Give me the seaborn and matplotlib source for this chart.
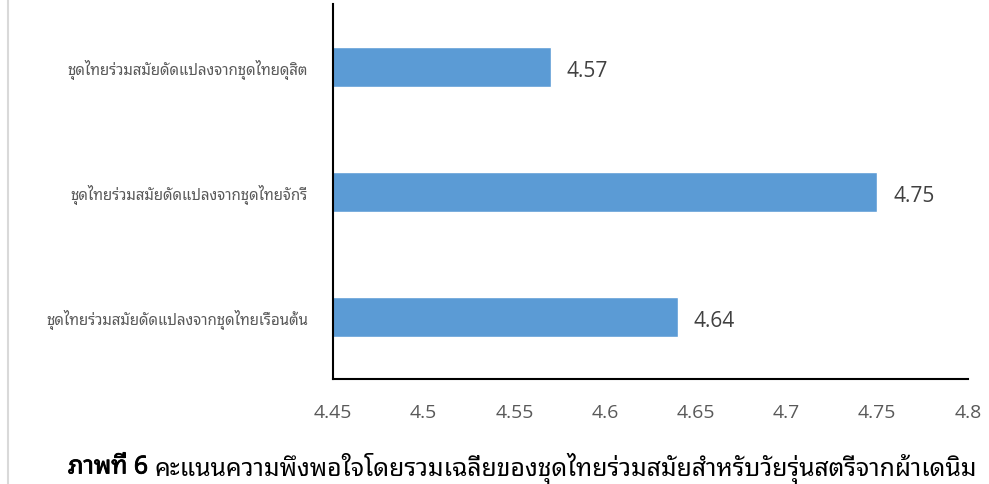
import matplotlib
matplotlib.use("Agg")
import matplotlib.pyplot as plt
import matplotlib.patheffects as pe
import seaborn as sns
import pandas as pd
from matplotlib import font_manager as fm
from matplotlib.lines import Line2D

categories = [
    "ชุดไทยร่วมสมัยดัดแปลงจากชุดไทยดุสิต",
    "ชุดไทยร่วมสมัยดัดแปลงจากชุดไทยจักรี",
    "ชุดไทยร่วมสมัยดัดแปลงจากชุดไทยเรือนต้น",
]
values = [4.57, 4.75, 4.64]
x_ticks = [4.45, 4.5, 4.55, 4.6, 4.65, 4.7, 4.75, 4.8]
x_tick_labels = ["4.45", "4.5", "4.55", "4.6", "4.65", "4.7", "4.75", "4.8"]
caption_bold = "ภาพที่ 6"
caption_rest = "คะแนนความพึงพอใจโดยรวมเฉลี่ยของชุดไทยร่วมสมัยสำหรับวัยรุ่นสตรีจากผ้าเดนิม"

# find an installed family with Thai glyphs
thai_family = None
try:
    from fontTools.ttLib import TTFont
    cands = []
    for f in fm.fontManager.ttflist:
        try:
            tt = TTFont(f.fname, fontNumber=0, lazy=True)
            cmap = tt.getBestCmap() or {}
            if 0x0E0A in cmap and 0x0E38 in cmap and 0x0E48 in cmap:
                cands.append(f.name)
        except Exception:
            pass
    pref = ["Tahoma", "Noto Sans Thai Looped", "Noto Sans Thai", "Loma", "Garuda", "Sarabun", "Norasi"]
    for p in pref:
        if p in cands:
            thai_family = p
            break
    if thai_family is None and cands:
        thai_family = sorted(cands)[0]
except Exception:
    pass

sns.set_theme(style="white")
fams = ([thai_family] if thai_family else []) + ["DejaVu Sans"]
plt.rcParams["font.family"] = fams

df = pd.DataFrame({"category": categories, "value": values})

fig = plt.figure(figsize=(9.89, 4.85), dpi=100)
ax = fig.add_axes([333 / 989, 1 - 380 / 485, 635 / 989, 375 / 485])

sns.barplot(data=df, x="value", y="category", orient="h", color="#5B9BD5",
            width=0.32, saturation=1, ax=ax)

ax.set_xlim(4.45, 4.8)
ax.set_ylim(2.5, -0.5)
ax.set_xticks(x_ticks)
ax.set_xticklabels(x_tick_labels, fontsize=14, color="#595959",
                   family=["Open Sans", "DejaVu Sans"])
ax.tick_params(axis="x", length=0, pad=17)
ax.tick_params(axis="y", length=0, pad=18)
for lab in ax.get_yticklabels():
    lab.set_fontsize(10.8)
    lab.set_color("#595959")
ax.set_xlabel("")
ax.set_ylabel("")
for s in ["top", "right"]:
    ax.spines[s].set_visible(False)
for s in ["left", "bottom"]:
    ax.spines[s].set_color("#000000")
    ax.spines[s].set_linewidth(1.5)

for cont in ax.containers:
    texts = ax.bar_label(cont, labels=[f"{v:.2f}" for v in values], padding=11.5,
                         fontsize=15, color="#404040", family=["Open Sans", "DejaVu Sans"])
    for t in texts:
        xo, yo = t.xyann
        t.xyann = (xo, yo - 3)

fig.add_artist(Line2D([8 / 989, 8 / 989], [0, 1], color="#d9d9d9", lw=1.5))

# caption
fig.canvas.draw()
r = fig.canvas.get_renderer()
t1 = fig.text(68 / 989, 1 - 468 / 485, caption_bold + " ", fontsize=17.8, fontweight="bold",
              color="#000000", va="center", ha="left",
              path_effects=[pe.withStroke(linewidth=0.6, foreground="#000000")])
bb = t1.get_window_extent(renderer=r)
fig.text(bb.x1 / fig.bbox.width, 1 - 468 / 485, caption_rest, fontsize=17.8,
         color="#000000", va="center", ha="left")

fig.savefig("out.png", dpi=100)
